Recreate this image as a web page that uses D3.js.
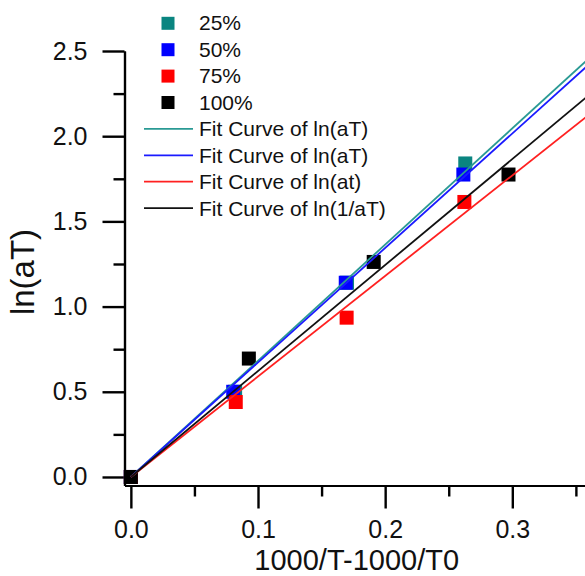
<!DOCTYPE html>
<html>
<head>
<meta charset="utf-8">
<script src="https://cdn.jsdelivr.net/npm/d3@7"></script>
<style>
  html, body { margin: 0; padding: 0; background: #fff; }
  svg { display: block; font-family: "Liberation Sans", Arial, sans-serif; }
</style>
</head>
<body>
<svg id="chart" width="585" height="576"></svg>
<script>
// ---- data ----
const seriesNames = ["25%", "50%", "75%", "100%"];
const fitNames = ["Fit Curve of ln(aT)", "Fit Curve of ln(aT)", "Fit Curve of ln(at)", "Fit Curve of ln(1/aT)"];
const seriesColors = ["#0a8580", "#0000ff", "#ff0000", "#000000"];
const lineColors = ["#2a9a94", "#1a1aff", "#ff2020", "#111111"];

const x25 = [0, 0.082, 0.170, 0.263];
const y25 = [0, 0.50, 1.14, 1.84];
const x50 = [0, 0.0805, 0.169, 0.2615];
const y50 = [0, 0.50, 1.14, 1.775];
const x75 = [0, 0.0825, 0.1697, 0.2623];
const y75 = [0, 0.44, 0.935, 1.614];
const x100 = [0, 0.0928, 0.191, 0.297];
const y100 = [0, 0.695, 1.262, 1.775];

// fitted slopes (lines through origin)
const fitSlopes = [6.82, 6.72, 5.90, 6.22];

const xTicks = [0, 0.1, 0.2, 0.3];
const xMinorTicks = [0.05, 0.15, 0.25, 0.35];
const yTicks = [0, 0.5, 1.0, 1.5, 2.0, 2.5];
const yMinorTicks = [0.25, 0.75, 1.25, 1.75, 2.25];

const xDomain = [-0.005, 0.36];
const yDomain = [-0.05, 2.5];

// ---- layout ----
const svg = d3.select("#chart");
const mLeft = 124.5, mRight = 588.6, mTop = 51, mBottom = 485.5;

const x = d3.scaleLinear().domain(xDomain).range([mLeft, mRight]);
const y = d3.scaleLinear().domain(yDomain).range([mBottom, mTop]);

const series = [
  {xs: x25, ys: y25},
  {xs: x50, ys: y50},
  {xs: x75, ys: y75},
  {xs: x100, ys: y100}
].map((s, i) => ({
  name: seriesNames[i],
  color: seriesColors[i],
  lineColor: lineColors[i],
  fitName: fitNames[i],
  slope: fitSlopes[i],
  points: s.xs.map((v, j) => ({x: v, y: s.ys[j]}))
}));

// ---- axes ----
const fmt = d3.format(".1f");
const yAxis = svg.append("g").attr("transform", `translate(${mLeft},0)`)
  .call(d3.axisLeft(y).tickValues(yTicks).tickFormat(fmt).tickSize(22).tickSizeOuter(0).tickPadding(15));
const yMinor = svg.append("g").attr("transform", `translate(${mLeft},0)`)
  .call(d3.axisLeft(y).tickValues(yMinorTicks).tickFormat("").tickSize(11).tickSizeOuter(0));
const xAxis = svg.append("g").attr("transform", `translate(0,${mBottom})`)
  .call(d3.axisBottom(x).tickValues(xTicks).tickFormat(fmt).tickSize(23).tickSizeOuter(0).tickPadding(12));
const xMinor = svg.append("g").attr("transform", `translate(0,${mBottom})`)
  .call(d3.axisBottom(x).tickValues(xMinorTicks).tickFormat("").tickSize(11).tickSizeOuter(0));

[yAxis, yMinor, xAxis, xMinor].forEach(g => {
  g.selectAll(".domain").attr("stroke", "#000").attr("stroke-width", 2.2);
  g.selectAll(".tick line").attr("stroke", "#000").attr("stroke-width", 2.4);
  g.selectAll(".tick text").attr("fill", "#111").style("font-size", "25px")
    .style("font-family", "'Liberation Sans', Arial, sans-serif");
});

// axis titles
svg.append("text")
  .attr("x", (mLeft + 585) / 2 + 2).attr("y", 570)
  .attr("text-anchor", "middle")
  .style("font-size", "29px").attr("fill", "#111")
  .text("1000/T-1000/T0");

svg.append("text")
  .attr("transform", `translate(34,272) rotate(-90)`)
  .attr("text-anchor", "middle")
  .style("font-size", "33px").attr("fill", "#111")
  .text("ln(aT)");

// ---- markers ----
const ms = 14;
series.forEach(s => {
  svg.append("g").selectAll("rect").data(s.points).join("rect")
    .attr("x", d => x(d.x) - ms / 2)
    .attr("y", d => y(d.y) - ms / 2)
    .attr("width", ms).attr("height", ms)
    .attr("fill", s.color);
});

// ---- fit lines ----
const line = d3.line().x(d => x(d.x)).y(d => y(d.y));
series.forEach(s => {
  const pts = [0, xDomain[1]].map(v => ({x: v, y: s.slope * v}));
  svg.append("path").datum(pts)
    .attr("d", line)
    .attr("fill", "none")
    .attr("stroke", s.lineColor)
    .attr("stroke-width", 1.8);
});

// ---- legend ----
const legY0 = 23.3, legStep = 26.4;
const leg = svg.append("g");
series.forEach((s, i) => {
  const cy = legY0 + i * legStep;
  leg.append("rect").attr("x", 168 - 6.5).attr("y", cy - 6.5)
    .attr("width", 13).attr("height", 13).attr("fill", s.color);
  leg.append("text").attr("x", 199).attr("y", cy + 7)
    .style("font-size", "21px").attr("fill", "#111").text(s.name);
});
series.forEach((s, i) => {
  const cy = legY0 + (i + 4) * legStep;
  leg.append("line").attr("x1", 144).attr("x2", 193).attr("y1", cy).attr("y2", cy)
    .attr("stroke", s.lineColor).attr("stroke-width", 1.8);
  leg.append("text").attr("x", 199).attr("y", cy + 7.5)
    .style("font-size", "21px").attr("fill", "#111").text(s.fitName);
});
</script>
</body>
</html>
